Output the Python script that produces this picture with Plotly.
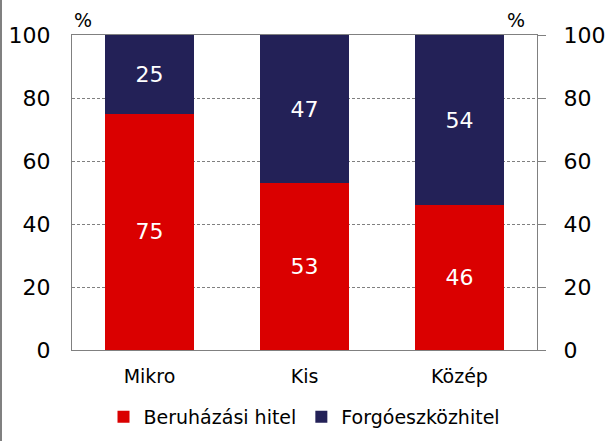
import plotly.graph_objects as go

categories = ["Mikro", "Kis", "Közép"]
beruhazasi = [75, 53, 46]
forgo = [25, 47, 54]
tick_vals = [0, 20, 40, 60, 80, 100]

RED = "#DA0000"
NAVY = "#232157"
FONT = "DejaVu Sans"

fig = go.Figure()
fig.add_trace(go.Bar(
    x=categories, y=beruhazasi, name="Beruházási hitel",
    marker=dict(color=RED, line=dict(width=0)),
    text=[str(v) for v in beruhazasi], textposition="inside",
    insidetextanchor="middle", textfont=dict(color="white", size=22, family=FONT),
))
fig.add_trace(go.Bar(
    x=categories, y=forgo, name="Forgóeszközhitel",
    marker=dict(color=NAVY, line=dict(width=0)),
    text=[str(v) for v in forgo], textposition="inside",
    insidetextanchor="middle", textfont=dict(color="white", size=22, family=FONT),
))
# invisible trace for right axis
fig.add_trace(go.Scatter(x=categories, y=[None]*3, yaxis="y2", showlegend=False, hoverinfo="skip"))

fig.update_layout(
    width=608, height=441,
    margin=dict(l=72, r=71, t=35, b=91),
    barmode="stack", bargap=0.43,
    paper_bgcolor="white", plot_bgcolor="white",
    font=dict(family=FONT, color="black"),
    showlegend=True,
    legend=dict(orientation="h", x=0.5, xanchor="center", xref="paper",
                y=(441-398)/441, yanchor="top", yref="container",
                font=dict(size=19, family=FONT), traceorder="normal",
                itemwidth=30, tracegroupgap=0),
    xaxis=dict(showline=True, linecolor="#808080", linewidth=1, mirror=True,
               ticks="", tickfont=dict(size=19, family=FONT), showgrid=False,
               automargin=False, ticklabelstandoff=9),
    yaxis=dict(range=[0, 100], tickvals=tick_vals, showline=True, linecolor="#808080",
               linewidth=1, ticks="", ticklen=0, tickfont=dict(size=22, family=FONT),
               showgrid=True, gridcolor="#808080", griddash="3px,2px", gridwidth=1,
               zeroline=False, ticklabelstandoff=16, automargin=False),
    yaxis2=dict(range=[0, 100], tickvals=tick_vals, overlaying="y", side="right",
                showline=True, linecolor="#808080", linewidth=1, ticks="outside",
                ticklen=8, tickcolor="#808080", tickfont=dict(size=22, family=FONT),
                showgrid=False, zeroline=False, ticklabelstandoff=13, automargin=False),
    annotations=[
        dict(text="%", xref="paper", yref="paper", x=0.0, y=1.0, xanchor="left",
             yanchor="bottom", showarrow=False, font=dict(size=19, family=FONT), yshift=2),
        dict(text="%", xref="paper", yref="paper", x=1.0, y=1.0, xanchor="right",
             yanchor="bottom", showarrow=False, font=dict(size=19, family=FONT),
             xshift=-10, yshift=2),
    ],
    shapes=[
        dict(type="line", xref="paper", yref="paper", x0=(1-72)/465, x1=(1-72)/465,
             y0=-91/315, y1=1+35/315, line=dict(color="#808080", width=2)),
    ],
)
fig.write_html("out.html")
